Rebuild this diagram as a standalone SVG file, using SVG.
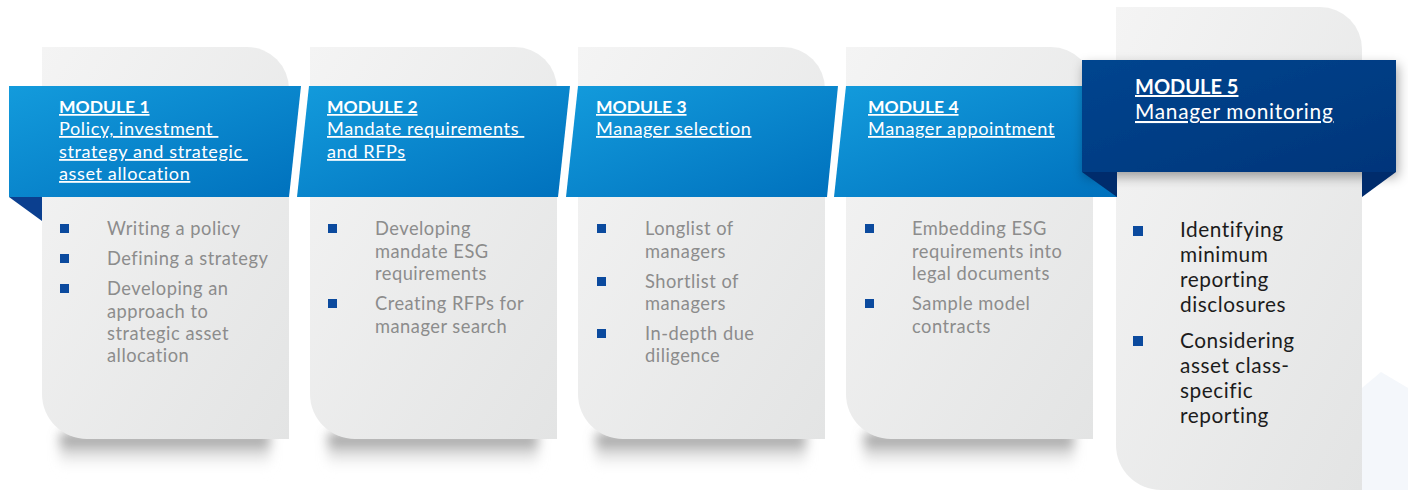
<svg xmlns="http://www.w3.org/2000/svg" width="1408" height="490" viewBox="0 0 1408 490">
<defs>
<linearGradient id="cardG" x1="0" y1="0" x2="1" y2="1">
<stop offset="0" stop-color="#f4f4f4"/>
<stop offset="1" stop-color="#e3e4e4"/>
</linearGradient>
<linearGradient id="bandG" x1="0" y1="0" x2="1" y2="1">
<stop offset="0" stop-color="#139bdc"/>
<stop offset="1" stop-color="#0071bd"/>
</linearGradient>
<linearGradient id="m5G" x1="0" y1="0" x2="1" y2="1">
<stop offset="0" stop-color="#00458f"/>
<stop offset="1" stop-color="#00357a"/>
</linearGradient>
<linearGradient id="shG" x1="0" y1="0" x2="0" y2="1">
<stop offset="0" stop-color="#6e6e6e" stop-opacity="0.9"/>
<stop offset="1" stop-color="#ffffff" stop-opacity="0"/>
</linearGradient>
<filter id="blur" x="-20%" y="-50%" width="140%" height="200%">
<feGaussianBlur stdDeviation="6"/>
</filter>
<filter id="drop" x="-10%" y="-20%" width="125%" height="160%">
<feDropShadow dx="2" dy="5" stdDeviation="6" flood-color="#000" flood-opacity="0.35"/>
</filter>
<style>
.card{fill:url(#cardG)}
.band{fill:url(#bandG)}
.fold{fill:#0b3f8f}
.fold5{fill:#002c6c}
.hd{font-family:Lato,"Liberation Sans",sans-serif;font-weight:700;font-size:17.5px;fill:#fff;text-decoration:underline}
.tt{font-family:Lato,"Liberation Sans",sans-serif;font-size:18.1px;letter-spacing:0.6px;fill:#fff;text-decoration:underline}
.bt{font-family:Lato,"Liberation Sans",sans-serif;font-size:18.3px;letter-spacing:0.5px;fill:#8c8c8c}
.hd5{font-family:Lato,"Liberation Sans",sans-serif;font-weight:700;font-size:20px;fill:#fff;text-decoration:underline}
.tt5{font-family:Lato,"Liberation Sans",sans-serif;font-size:20.8px;letter-spacing:0.75px;fill:#fff;text-decoration:underline}
.bt5{font-family:Lato,"Liberation Sans",sans-serif;font-size:20.8px;letter-spacing:0.55px;fill:#1c1c1c}
.bul{fill:#0b4a9e}
.sh{fill:url(#shG)}
</style>
</defs>
<rect width="1408" height="490" fill="#ffffff"/>
<polygon points="1362,388 1381,372 1408,388 1408,490 1362,490" fill="#f4f7fb"/>

<g id="shadows" filter="url(#blur)">
<rect class="sh" x="60" y="434" width="210" height="38"/>
<rect class="sh" x="328" y="434" width="210" height="38"/>
<rect class="sh" x="596" y="434" width="210" height="38"/>
<rect class="sh" x="864" y="434" width="210" height="38"/>
</g>

<g id="module1">
<path class="card" d="M42,47 H247 A42,42 0 0 1 289,89 V439 H87 A45,45 0 0 1 42,394 Z"/>
<polygon class="band" points="9,86 301,86 289,197 9,197"/>
<polygon class="fold" points="9,197 42,197 42,221"/>
<text class="hd" x="59" y="113">MODULE 1</text>
<text class="tt" x="59" y="135" xml:space="preserve">Policy, investment </text>
<text class="tt" x="59" y="158" xml:space="preserve">strategy and strategic </text>
<text class="tt" x="59" y="180">asset allocation</text>
<rect class="bul" x="60" y="224" width="9" height="9"/>
<rect class="bul" x="60" y="254" width="9" height="9"/>
<rect class="bul" x="60" y="284" width="9" height="9"/>
<text class="bt" x="107" y="235">Writing a policy</text>
<text class="bt" x="107" y="265">Defining a strategy</text>
<text class="bt" x="107" y="295">Developing an</text>
<text class="bt" x="107" y="318">approach to</text>
<text class="bt" x="107" y="340">strategic asset</text>
<text class="bt" x="107" y="362">allocation</text>
</g>

<g id="module2">
<path class="card" d="M310,47 H515 A42,42 0 0 1 557,89 V439 H355 A45,45 0 0 1 310,394 Z"/>
<polygon class="band" points="309,86 570,86 558,197 297,197"/>
<text class="hd" x="327" y="113">MODULE 2</text>
<text class="tt" x="327" y="135" xml:space="preserve">Mandate requirements </text>
<text class="tt" x="327" y="158">and RFPs</text>
<rect class="bul" x="328" y="224" width="9" height="9"/>
<rect class="bul" x="328" y="299" width="9" height="9"/>
<text class="bt" x="375" y="235">Developing</text>
<text class="bt" x="375" y="258">mandate ESG</text>
<text class="bt" x="375" y="280">requirements</text>
<text class="bt" x="375" y="310">Creating RFPs for</text>
<text class="bt" x="375" y="333">manager search</text>
</g>

<g id="module3">
<path class="card" d="M578,47 H783 A42,42 0 0 1 825,89 V439 H623 A45,45 0 0 1 578,394 Z"/>
<polygon class="band" points="578,86 838,86 827,197 566,197"/>
<text class="hd" x="596" y="113">MODULE 3</text>
<text class="tt" x="596" y="135">Manager selection</text>
<rect class="bul" x="597" y="224" width="9" height="9"/>
<rect class="bul" x="597" y="277" width="9" height="9"/>
<rect class="bul" x="597" y="329" width="9" height="9"/>
<text class="bt" x="645" y="235">Longlist of</text>
<text class="bt" x="645" y="258">managers</text>
<text class="bt" x="645" y="288">Shortlist of</text>
<text class="bt" x="645" y="310">managers</text>
<text class="bt" x="645" y="340">In-depth due</text>
<text class="bt" x="645" y="362">diligence</text>
</g>

<g id="module5card">
<path class="card" d="M1116,7 H1320 A42,42 0 0 1 1362,49 V490 H1161 A45,45 0 0 1 1116,445 Z"/>
</g>

<g id="module4">
<path class="card" d="M846,47 H1051 A42,42 0 0 1 1093,89 V439 H891 A45,45 0 0 1 846,394 Z"/>
<polygon class="band" points="846,86 1117,86 1117,197 834,197"/>
<text class="hd" x="868" y="113">MODULE 4</text>
<text class="tt" x="868" y="135">Manager appointment</text>
<rect class="bul" x="865" y="224" width="9" height="9"/>
<rect class="bul" x="865" y="299" width="9" height="9"/>
<text class="bt" x="912" y="235">Embedding ESG</text>
<text class="bt" x="912" y="258">requirements into</text>
<text class="bt" x="912" y="280">legal documents</text>
<text class="bt" x="912" y="310">Sample model</text>
<text class="bt" x="912" y="333">contracts</text>
</g>

<g id="module5">
<g filter="url(#drop)">
<rect x="1082" y="60" width="314" height="112" fill="url(#m5G)"/>
</g>
<polygon class="fold5" points="1082,172 1117,172 1117,197"/>
<polygon class="fold5" points="1362,172 1396,172 1362,197"/>
<text class="hd5" x="1135" y="94">MODULE 5</text>
<text class="tt5" x="1135" y="119">Manager monitoring</text>
<rect class="bul" x="1133" y="226" width="10" height="10"/>
<rect class="bul" x="1133" y="336" width="10" height="10"/>
<text class="bt5" x="1180" y="237">Identifying</text>
<text class="bt5" x="1180" y="262">minimum</text>
<text class="bt5" x="1180" y="287">reporting</text>
<text class="bt5" x="1180" y="312">disclosures</text>
<text class="bt5" x="1180" y="348">Considering</text>
<text class="bt5" x="1180" y="373">asset class-</text>
<text class="bt5" x="1180" y="398">specific</text>
<text class="bt5" x="1180" y="423">reporting</text>
</g>

<g id="connectors"></g>
</svg>
